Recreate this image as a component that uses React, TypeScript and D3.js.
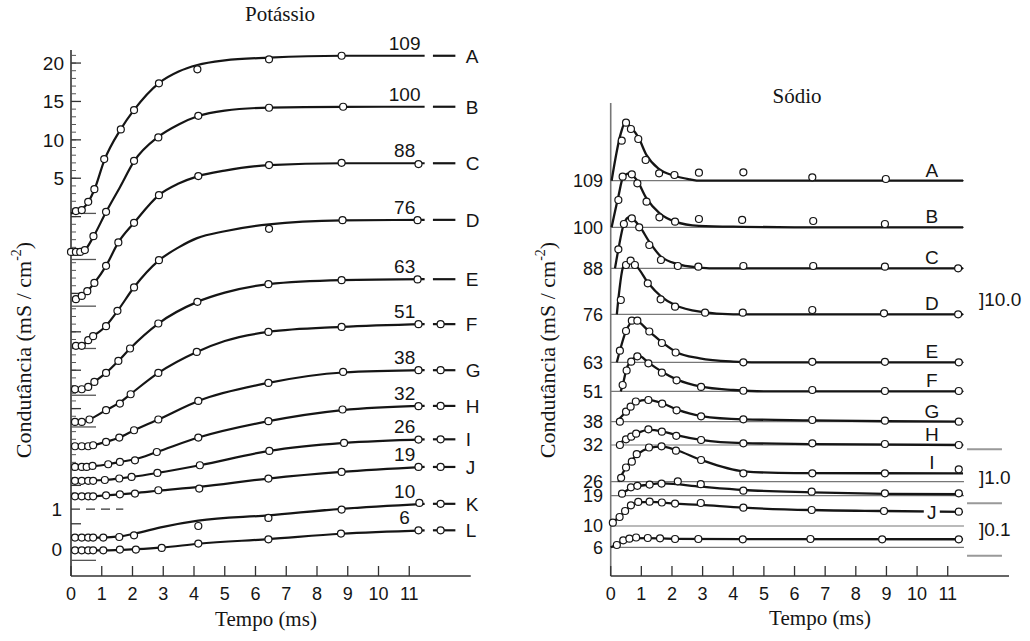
import React from 'react';
import * as d3 from 'd3';

// ---- Potássio (left): values in units of the left axis (scale of trace A), traces offset ----
const kLetters = ['A', 'B', 'C', 'D', 'E', 'F', 'G', 'H', 'I', 'J', 'K', 'L'];
const kVolts = [109, 100, 88, 76, 63, 51, 38, 32, 26, 19, 10, 6];
const kTicks = [20, 15, 10, 5];
const kInsetTicks = [0, 1];
const kInsetBase = -43.25;
const kInsetGain = 5.15;
const kMarks = [0.42, -5.58, -11.66, -17.17, -23.26, -27.39, -32.68, -36.29, -44.76];

const kObs = [
  [[0.16, 0.72], [0.35, 0.85], [0.56, 1.93], [0.76, 3.58], [1.08, 7.49], [1.62, 11.36], [2.05, 13.88], [2.86, 17.36], [4.11, 19.18], [6.44, 20.48], [8.8, 20.95]],
  [[0, -4.59], [0.16, -4.59], [0.3, -4.59], [0.45, -4.36], [0.73, -2.54], [1.14, 0.63], [2.05, 7.27], [2.84, 10.32], [4.14, 13.13], [6.44, 14.18], [8.85, 14.31]],
  [[0.16, -10.75], [0.35, -10.32], [0.53, -9.71], [0.76, -8.63], [1.14, -6.41], [1.54, -3.36], [2.05, -0.81], [2.86, 2.8], [4.14, 5.28], [6.44, 6.71], [8.8, 7.01], [11.3, 6.84]],
  [[0.16, -16.83], [0.35, -16.83], [0.56, -16.09], [0.72, -15.57], [1.14, -14.27], [1.51, -12.27], [2.05, -9.22], [2.86, -5.67], [6.44, -1.59], [8.83, -0.46], [11.27, -0.46]],
  [[0.13, -22.48], [0.35, -22.48], [0.56, -22.18], [0.76, -21.52], [1.14, -20.35], [1.54, -18.79], [1.92, -17.17], [2.84, -13.92], [4.11, -11.1], [6.42, -8.79], [8.8, -8.27], [11.27, -8.18]],
  [[0.13, -26.74], [0.35, -26.74], [0.6, -26.42], [1.14, -25.21], [1.59, -24.34], [1.94, -23.13], [2.84, -20.35], [4.09, -17.62], [6.42, -15.01], [8.8, -14.36], [11.3, -14.01]],
  [[0.13, -29.9], [0.35, -29.9], [0.56, -29.9], [0.72, -29.77], [1.14, -29.34], [1.57, -28.77], [2.05, -27.82], [2.84, -26.42], [4.14, -24.0], [6.42, -21.65], [8.85, -20.22], [11.3, -20.0]],
  [[0.13, -32.6], [0.35, -32.6], [0.51, -32.6], [0.7, -32.47], [1.21, -32.25], [1.59, -31.95], [2.08, -31.73], [2.79, -30.65], [4.14, -28.77], [6.42, -26.64], [8.83, -25.12], [11.3, -24.69]],
  [[0.13, -34.4], [0.35, -34.4], [0.56, -34.4], [0.72, -34.4], [1.1, -34.3], [1.57, -34.1], [1.97, -33.9], [2.81, -33.38], [4.19, -32.38], [6.45, -30.51], [8.88, -29.47], [11.3, -29.03]],
  [[0.13, -36.42], [0.35, -36.42], [0.56, -36.42], [0.72, -36.42], [1.14, -36.29], [1.59, -36.16], [2.08, -36.07], [2.84, -35.63], [4.17, -35.41], [6.42, -34.11], [8.8, -33.25], [11.3, -32.6]],
  [[0.13, -41.8], [0.35, -41.8], [0.56, -41.8], [0.72, -41.8], [1.05, -41.8], [1.57, -41.72], [2.05, -41.5], [4.14, -40.29], [6.42, -39.24], [8.8, -38.15], [11.33, -37.29]],
  [[0.13, -43.45], [0.35, -43.45], [0.56, -43.45], [0.72, -43.45], [1.05, -43.45], [1.59, -43.36], [2.11, -43.36], [2.95, -43.15], [4.14, -42.58], [6.42, -42.02], [8.78, -41.28], [11.3, -40.85]],
];

const kFit = [
  [[0, 0.42], [0.16, 0.6], [0.35, 0.95], [0.56, 1.9], [0.76, 3.5], [1.08, 7.3], [1.62, 11.4], [2.05, 13.9], [2.86, 17.4], [3.5, 18.9], [4.11, 19.75], [5, 20.35], [6.44, 20.7], [8.8, 20.95], [11.5, 20.95]],
  [[0, -4.6], [0.3, -4.6], [0.45, -4.35], [0.73, -2.6], [1.14, 0.6], [1.6, 3.9], [2.05, 7.2], [2.84, 10.4], [3.5, 12.0], [4.14, 13.1], [5, 13.8], [6.44, 14.2], [8.85, 14.3], [11.5, 14.31]],
  [[0.05, -10.85], [0.16, -10.75], [0.35, -10.32], [0.53, -9.71], [0.76, -8.63], [1.14, -6.41], [1.54, -3.36], [2.05, -0.81], [2.86, 2.8], [3.5, 4.3], [4.14, 5.28], [5, 6.0], [6.44, 6.71], [8.8, 6.95], [11.5, 6.95]],
  [[0.05, -16.9], [0.35, -16.8], [0.56, -16.1], [0.72, -15.6], [1.14, -14.2], [1.51, -12.3], [2.05, -9.2], [2.86, -5.7], [3.5, -4.0], [4.1, -2.8], [5, -1.9], [6.44, -1.0], [8.83, -0.5], [11.5, -0.42]],
  [[0.05, -22.5], [0.35, -22.45], [0.56, -22.18], [0.76, -21.52], [1.14, -20.35], [1.54, -18.79], [1.92, -17.17], [2.84, -13.92], [4.11, -11.1], [5, -9.9], [6.42, -8.79], [8.8, -8.27], [11.5, -8.15]],
  [[0.05, -26.75], [0.35, -26.72], [0.6, -26.4], [1.14, -25.2], [1.59, -24.2], [1.94, -23.1], [2.84, -20.35], [4.09, -17.62], [5, -16.2], [6.42, -15.01], [8.8, -14.36], [11.5, -14.0]],
  [[0.05, -29.9], [0.56, -29.88], [0.72, -29.77], [1.14, -29.34], [1.57, -28.77], [2.05, -27.82], [2.84, -26.42], [4.14, -24.0], [6.42, -21.65], [8.85, -20.3], [11.5, -20.0]],
  [[0.05, -32.6], [0.7, -32.5], [1.21, -32.25], [1.59, -31.95], [2.08, -31.6], [2.79, -30.65], [4.14, -28.77], [6.42, -26.64], [8.83, -25.2], [11.5, -24.65]],
  [[0.05, -34.4], [1.1, -34.3], [1.57, -34.1], [1.97, -33.9], [2.81, -33.38], [4.19, -32.38], [6.45, -30.51], [8.88, -29.47], [11.5, -29.0]],
  [[0.05, -36.42], [0.72, -36.4], [1.14, -36.29], [1.59, -36.16], [2.08, -36.0], [2.84, -35.7], [4.17, -35.2], [6.42, -34.11], [8.8, -33.25], [11.5, -32.6]],
  [[0.05, -41.8], [1.05, -41.8], [1.57, -41.65], [2.05, -41.3], [3, -40.4], [4.14, -39.6], [6.42, -38.9], [8.8, -38.05], [11.5, -37.4]],
  [[0.05, -43.45], [1.05, -43.45], [2.11, -43.3], [2.95, -43.1], [4.14, -42.6], [6.42, -42.0], [8.78, -41.3], [11.5, -40.85]],
];

// ---- Sódio (right): baselines in panel units, values relative to each baseline ----
const naLetters = ['A', 'B', 'C', 'D', 'E', 'F', 'G', 'H', 'I', '', 'J', ''];
const naVolts = [109, 100, 88, 76, 63, 51, 38, 32, 26, 19, 10, 6];
const naBase = [83.57, 73.72, 65.05, 55.33, 45.18, 39.05, 32.62, 27.7, 19.94, 16.98, 10.57, 6.07];
const naScaleLabels = [']10.0', ']1.0', ']0.1'];
const naScaleY = [58.6, 21.0, 9.95];
const naSeparators = [26.79, 15.37, 4.29];

const naObs = [
  [[0.36, 8.46], [0.5, 12.27], [0.66, 10.93], [0.9, 8.82], [1.14, 4.38], [1.58, 1.57], [2.08, 1.21], [2.88, 1.7], [4.33, 1.78], [6.58, 0.72], [8.98, 0.36]],
  [[0.25, 5.77], [0.39, 10.7], [0.69, 11.21], [0.87, 9.3], [1.17, 5.41], [1.59, 2.12], [2.1, 1.19], [2.88, 1.76], [4.29, 1.55], [6.61, 1.33], [8.95, 0.7]],
  [[0.25, 4.02], [0.43, 9.37], [0.69, 10.57], [0.93, 8.67], [1.26, 4.93], [1.64, 1.76], [2.19, 0.49], [2.86, 0.34], [4.33, 0.49], [6.61, 0.49], [8.95, 0.34], [11.34, 0]],
  [[0.33, 3.02], [0.5, 10.42], [0.65, 11.33], [0.79, 10.42], [1.21, 6.55], [1.63, 3.17], [2.1, 1.6], [3.08, 0.34], [4.31, 0.34], [6.58, 0.91], [8.92, 0.21], [11.34, 0]],
  [[0.3, 2.45], [0.5, 6.62], [0.69, 8.79], [0.87, 8.79], [1.26, 6.51], [1.67, 4.08], [2.12, 2.07], [4.33, 0], [6.58, 0.11], [8.95, 0.11], [11.36, 0]],
  [[0.39, 1.33], [0.52, 4.4], [0.67, 6.26], [0.87, 7.4], [1.23, 5.92], [1.67, 3.93], [2.15, 2.32], [2.95, 0.93], [4.33, 0.12], [6.58, 0.27], [8.95, 0.06], [11.36, 0.06]],
  [[0.3, 0], [0.5, 2.12], [0.65, 3.17], [0.82, 4.27], [1.23, 4.59], [1.68, 3.81], [2.15, 2.41], [2.95, 1.14], [4.33, 0.51], [6.58, 0.36], [8.95, 0.21], [11.36, 0]],
  [[0.3, 0], [0.5, 1.2], [0.67, 1.75], [0.83, 2.38], [1.23, 3.31], [1.67, 2.81], [2.14, 1.94], [2.95, 1.05], [4.33, 0.35], [6.58, 0.35], [8.95, 0.21], [11.36, 0]],
  [[0.34, 0.82], [0.5, 3.0], [0.69, 4.22], [0.85, 5.81], [1.25, 7.23], [1.66, 7.48], [2.13, 6.55], [2.95, 4.58], [4.33, 1.77], [6.58, 1.77], [8.95, 1.77], [11.36, 2.62]],
  [[0.37, 0.42], [0.66, 1.77], [0.87, 2.09], [1.27, 2.34], [1.66, 2.55], [2.19, 3.04], [2.94, 2.43], [4.33, 1.05], [6.56, 0.84], [8.95, 0.5], [11.36, 0.5]],
  [[0.07, 0.7], [0.29, 1.9], [0.47, 3.17], [0.66, 4.38], [0.9, 5.1], [1.27, 5.14], [1.67, 4.97], [2.1, 4.74], [2.94, 4.86], [4.33, 3.87], [6.56, 3.38], [8.92, 3.17], [11.36, 3.02]],
  [[0.2, 0.48], [0.41, 1.48], [0.61, 1.82], [0.83, 2.07], [1.21, 1.96], [1.61, 1.9], [2.1, 1.75], [2.86, 1.75], [4.31, 1.69], [6.52, 1.75], [8.86, 1.69], [11.36, 1.69]],
];

const naFit = [
  [[0.03, 0], [0.33, 10.0], [0.47, 12.3], [0.69, 11.1], [0.9, 9.2], [1.17, 5.4], [1.55, 2.6], [2.1, 1.0], [2.59, 0.3], [2.9, 0], [11.5, 0]],
  [[0.03, 0], [0.25, 6.5], [0.4, 10.5], [0.6, 11.4], [0.85, 10.0], [1.17, 6.1], [1.59, 3.0], [2.1, 1.2], [2.88, 0.3], [4.3, 0.1], [6, 0], [11.5, 0]],
  [[0.14, 0], [0.25, 4.0], [0.43, 9.4], [0.6, 10.8], [0.93, 9.0], [1.26, 5.6], [1.64, 2.5], [2.19, 0.9], [2.86, 0.2], [3.3, 0], [11.5, 0]],
  [[0.2, 0], [0.41, 10.1], [0.57, 11.1], [0.85, 10.1], [1.23, 6.55], [1.66, 3.7], [2.1, 1.96], [2.91, 0.55], [4, 0], [11.5, 0]],
  [[0.2, 0], [0.3, 2.45], [0.47, 6.1], [0.78, 8.9], [1.26, 6.5], [1.66, 4.3], [2.13, 2.2], [2.91, 0.85], [4, 0.14], [4.6, 0], [11.5, 0]],
  [[0.33, 0], [0.39, 1.3], [0.52, 4.8], [0.67, 6.4], [0.9, 7.6], [1.23, 6.05], [1.67, 4.14], [2.15, 2.53], [2.95, 0.97], [4, 0.27], [5, 0], [11.5, 0]],
  [[0.2, 0], [0.5, 2.1], [0.82, 4.1], [1.2, 4.6], [1.68, 3.9], [2.15, 2.6], [2.95, 1.2], [4.33, 0.5], [6.58, 0.3], [9, 0.1], [11.5, 0]],
  [[0.2, 0], [0.5, 1.2], [0.83, 2.4], [1.23, 3.2], [1.67, 2.9], [2.14, 2.1], [2.95, 1.1], [4.33, 0.4], [6.58, 0.2], [11.5, 0]],
  [[0.25, 0], [0.5, 3.0], [0.85, 5.6], [1.25, 7.1], [1.66, 7.4], [2.13, 6.7], [2.95, 4.6], [4.33, 2.2], [6, 1.8], [11.5, 1.77]],
  [[0.3, 0], [0.66, 1.6], [1.2, 2.3], [1.7, 2.6], [2.94, 1.9], [4.33, 1.2], [6.56, 0.72], [8.95, 0.4], [11.5, 0.3]],
  [[0, 0], [0.07, 0.7], [0.29, 1.9], [0.47, 3.17], [0.66, 4.38], [0.9, 5.0], [1.27, 5.1], [2.1, 4.75], [2.94, 4.45], [4.33, 3.87], [6.56, 3.38], [8.92, 3.17], [11.5, 3.0]],
  [[0, 0], [0.2, 0.6], [0.41, 1.45], [0.7, 1.9], [1.2, 1.95], [2.1, 1.8], [4.3, 1.72], [11.5, 1.7]],
];

const timeTicks = [0, 1, 2, 3, 4, 5, 6, 7, 8, 9, 10, 11];

const SANS = 'Liberation Sans, Arial, sans-serif';
const SERIF = 'Liberation Serif, Times New Roman, serif';
const INK = '#151515';

type P = number[];

export default function App() {
  const kx = d3.scaleLinear().domain([0, 13]).range([71, 470.75]);
  const ky = d3.scaleLinear().domain([-46.8, 21.7]).range([576, 50]);
  const nx = d3.scaleLinear().domain([0, 13]).range([610.7, 1009]);
  const ny = d3.scaleLinear().domain([0, 100]).range([576, 103]);

  const kLine = d3.line<P>().x(d => kx(d[0])).y(d => ky(d[1])).curve(d3.curveMonotoneX);
  const naLine = (base: number) =>
    d3.line<P>().x(d => nx(d[0])).y(d => ny(base + d[1])).curve(d3.curveMonotoneX);

  const minor = d3.range(21, -37, -1);
  const major = d3.range(20, -41, -5);

  return (
    <svg width={1030} height={641} style={{ position: 'absolute', left: 0, top: 0, background: '#fff' }}>
      {/* ---------- Potássio ---------- */}
      <text x={280} y={21} textAnchor="middle" fontFamily={SERIF} fontSize={21} fill={INK}>Potássio</text>

      {/* y axis */}
      <line x1={kx(0)} x2={kx(0)} y1={ky(21.7)} y2={ky(-46.8)} stroke="#333" strokeWidth={1.6} />
      {minor.map(v => (
        <line key={'mi' + v} x1={kx(0)} x2={kx(0) + 5} y1={ky(v)} y2={ky(v)} stroke="#555" strokeWidth={1} />
      ))}
      {major.map(v => (
        <line key={'ma' + v} x1={kx(0)} x2={kx(0) + 10} y1={ky(v)} y2={ky(v)} stroke="#333" strokeWidth={1.3} />
      ))}
      {kMarks.map(v => (
        <line key={'mk' + v} x1={kx(0)} x2={kx(0) + 25} y1={ky(v)} y2={ky(v)} stroke="#555" strokeWidth={1.3} />
      ))}
      {kTicks.map(v => (
        <text key={'kt' + v} x={64} y={ky(v)} dy="0.36em" textAnchor="end" fontFamily={SANS} fontSize={19} fill={INK}>{v}</text>
      ))}
      {kInsetTicks.map(v => (
        <text key={'ki' + v} x={62} y={ky(kInsetBase + v * kInsetGain)} dy="0.36em" textAnchor="end" fontFamily={SANS} fontSize={19} fill={INK}>{v}</text>
      ))}
      <line x1={kx(0)} x2={kx(1.7)} y1={ky(kInsetBase + kInsetGain)} y2={ky(kInsetBase + kInsetGain)}
        stroke="#333" strokeWidth={1.2} strokeDasharray="9,6" />

      {/* x axis */}
      <line x1={kx(0)} x2={kx(13)} y1={576} y2={576} stroke="#333" strokeWidth={1.6} />
      {timeTicks.map(t => (
        <g key={'kx' + t}>
          <line x1={kx(t)} x2={kx(t)} y1={576} y2={566} stroke="#333" strokeWidth={1.3} />
          <text x={kx(t)} y={600} textAnchor="middle" fontFamily={SANS} fontSize={18} fill={INK}>{t}</text>
        </g>
      ))}
      <text x={266} y={626} textAnchor="middle" fontFamily={SERIF} fontSize={21} fill={INK}>Tempo (ms)</text>
      <text transform="translate(23,350) rotate(-90)" textAnchor="middle" dominantBaseline="central"
        fontFamily={SERIF} fontSize={22} fill={INK}>
        Condutância (mS / cm<tspan dy={-7} fontSize={14}>-2</tspan><tspan dy={7}>)</tspan>
      </text>

      {/* traces */}
      {kFit.map((f, i) => (
        <path key={'kf' + i} d={kLine(f) || ''} fill="none" stroke={INK} strokeWidth={2.2} />
      ))}
      {kObs.map((o, i) =>
        o.map((d, j) => (
          <circle key={'ko' + i + '-' + j} cx={kx(d[0])} cy={ky(d[1])} r={3.5} fill="#fff" stroke={INK} strokeWidth={1.2} />
        ))
      )}
      {kFit.map((f, i) => {
        const yEnd = ky(f[f.length - 1][1]);
        return (
          <g key={'kl' + i}>
            <text x={kx(10.85)} y={yEnd - 6} textAnchor="middle" fontFamily={SANS} fontSize={19} fill={INK}>{kVolts[i]}</text>
            <line x1={kx(11.77)} x2={kx(12.5)} y1={yEnd} y2={yEnd} stroke={INK} strokeWidth={2.2} />
            {i >= 5 && <circle cx={kx(12.02)} cy={yEnd} r={3.5} fill="#fff" stroke={INK} strokeWidth={1.2} />}
            <text x={kx(12.84)} y={yEnd} dy="0.36em" fontFamily={SANS} fontSize={19} fill={INK}>{kLetters[i]}</text>
          </g>
        );
      })}

      {/* ---------- Sódio ---------- */}
      <text x={797} y={103} textAnchor="middle" fontFamily={SERIF} fontSize={21} fill={INK}>Sódio</text>

      {naBase.map((b, i) => (
        <line key={'nb' + i} x1={nx(0)} x2={nx(11.53)} y1={ny(b)} y2={ny(b)} stroke="#777" strokeWidth={1.2} />
      ))}
      <line x1={nx(0)} x2={nx(0)} y1={ny(100)} y2={576} stroke="#777" strokeWidth={1.6} />
      <line x1={nx(0)} x2={nx(13)} y1={576} y2={576} stroke="#333" strokeWidth={1.6} />
      {timeTicks.map(t => (
        <g key={'nx' + t}>
          <line x1={nx(t)} x2={nx(t)} y1={576} y2={566} stroke="#333" strokeWidth={1.3} />
          <text x={nx(t)} y={600} textAnchor="middle" fontFamily={SANS} fontSize={18} fill={INK}>{t}</text>
        </g>
      ))}
      {naBase.map((b, i) => (
        <text key={'nt' + i} x={603} y={ny(b)} dy="0.36em" textAnchor="end" fontFamily={SANS} fontSize={18} fill={INK}>{naVolts[i]}</text>
      ))}
      <text x={820} y={625} textAnchor="middle" fontFamily={SERIF} fontSize={21} fill={INK}>Tempo (ms)</text>
      <text transform="translate(547,350) rotate(-90)" textAnchor="middle" dominantBaseline="central"
        fontFamily={SERIF} fontSize={22} fill={INK}>
        Condutância (mS / cm<tspan dy={-7} fontSize={14}>-2</tspan><tspan dy={7}>)</tspan>
      </text>

      {naFit.map((f, i) => (
        <path key={'nf' + i} d={naLine(naBase[i])(f) || ''} fill="none" stroke={INK} strokeWidth={2.3} />
      ))}
      {naObs.map((o, i) =>
        o.map((d, j) => (
          <circle key={'no' + i + '-' + j} cx={nx(d[0])} cy={ny(naBase[i] + d[1])} r={3.5} fill="#fff" stroke={INK} strokeWidth={1.2} />
        ))
      )}
      {naFit.map((f, i) => {
        if (!naLetters[i]) return null;
        const yEnd = ny(naBase[i] + f[f.length - 1][1]);
        if (naLetters[i] === 'J') {
          return (
            <g key={'nl' + i}>
              <rect x={nx(10.48) - 8} y={yEnd - 3} width={16} height={6} fill="#fff" />
              <text x={nx(10.48)} y={yEnd} dy="0.36em" textAnchor="middle" fontFamily={SANS} fontSize={19} fill={INK}>J</text>
            </g>
          );
        }
        return (
          <text key={'nl' + i} x={nx(10.48)} y={yEnd - 4} textAnchor="middle" fontFamily={SANS} fontSize={19} fill={INK}>{naLetters[i]}</text>
        );
      })}

      {naSeparators.map((v, i) => (
        <line key={'ns' + i} x1={nx(11.63)} x2={nx(12.77)} y1={ny(v)} y2={ny(v)} stroke="#999" strokeWidth={2} />
      ))}
      {naScaleLabels.map((s, i) => (
        <text key={'nsl' + i} x={979} y={ny(naScaleY[i])} dy="0.36em" fontFamily={SANS} fontSize={19} fill={INK}>{s}</text>
      ))}
    </svg>
  );
}
